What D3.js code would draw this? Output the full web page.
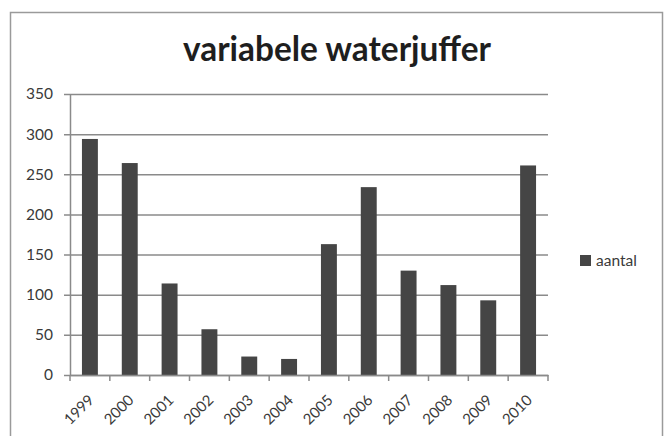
<!DOCTYPE html>
<html><head><meta charset="utf-8">
<script src="https://cdn.jsdelivr.net/npm/d3@7"></script>
<style>body{margin:0;background:#fff}svg{display:block}</style>
</head><body>
<svg id="c" width="667" height="436"></svg>
<script>
const title = "variabele waterjuffer";
const seriesName = "aantal";
const years = ["1999","2000","2001","2002","2003","2004","2005","2006","2007","2008","2009","2010"];
const counts = [294, 264, 114, 57, 23, 20, 163, 234, 130, 112, 93, 261];
const yTicks = [0, 50, 100, 150, 200, 250, 300, 350];

const svg = d3.select("#c");
const font = "Lato, 'Open Sans', sans-serif";
const grid = "#8a8a8a", txt = "#3a3a3a", bar = "#454545";

// frame
svg.append("rect").attr("x", 10.5).attr("y", 12.5).attr("width", 652).attr("height", 440)
  .attr("fill", "#fff").attr("stroke", "#9a9a9a").attr("stroke-width", 1.5);

const m = {l: 70, r: 548, t: 94, b: 375};
const x = d3.scaleBand().domain(years).range([m.l, m.r]).paddingInner(0.6).paddingOuter(0.3);
const xb = d3.scaleBand().domain(years).range([m.l, m.r]);
const y = d3.scaleLinear().domain([0, 350]).range([m.b, m.t]);

// gridlines + y axis
const ya = svg.append("g").attr("transform", `translate(${m.l},0)`)
  .call(d3.axisLeft(y).tickValues(yTicks).tickSize(-(m.r - m.l)).tickSizeOuter(0).tickPadding(17));
ya.select(".domain").attr("stroke", grid).attr("stroke-width", 1.5);
ya.selectAll(".tick line").attr("stroke", grid).attr("stroke-width", 1.5).attr("x1", -6);
ya.selectAll(".tick text").attr("font-family", font).attr("font-size", 15.5).attr("fill", txt);

// bars
svg.append("g").selectAll("rect").data(years).join("rect")
  .attr("x", (d) => x(d)).attr("width", x.bandwidth())
  .attr("y", (d, i) => y(counts[i])).attr("height", (d, i) => y(0) - y(counts[i]))
  .attr("fill", bar);

// x axis
const xa = svg.append("g").attr("transform", `translate(0,${m.b})`)
  .call(d3.axisBottom(xb).tickSize(0).tickSizeOuter(0));
xa.select(".domain").attr("stroke", grid).attr("stroke-width", 1.5);
xa.selectAll(".tick text").attr("font-family", font).attr("font-size", 15).attr("fill", txt)
  .attr("text-anchor", "end").attr("y", 0).attr("dy", 0).attr("dx", 0)
  .attr("transform", "translate(5,26) rotate(-45)");
// boundary tick marks
const bounds = years.map(d => xb(d)).concat([m.r]);
svg.append("g").selectAll("line").data(bounds).join("line")
  .attr("x1", d => d).attr("x2", d => d).attr("y1", m.b).attr("y2", m.b + 6)
  .attr("stroke", grid).attr("stroke-width", 1.5);

// title
const t = svg.append("text").attr("x", 337).attr("y", 61).attr("text-anchor", "middle")
  .attr("font-family", font).attr("font-weight", "bold").attr("font-size", 33)
  .attr("fill", "#1e1e1e").text(title);
const tw = t.node().getComputedTextLength();
if (tw > 0) t.attr("font-size", 33 * 308 / tw);

// legend
svg.append("rect").attr("x", 580).attr("y", 255).attr("width", 11).attr("height", 11).attr("fill", bar);
svg.append("text").attr("x", 596).attr("y", 266).attr("font-family", font).attr("font-size", 15.5)
  .attr("fill", txt).text(seriesName);
</script>
</body></html>
